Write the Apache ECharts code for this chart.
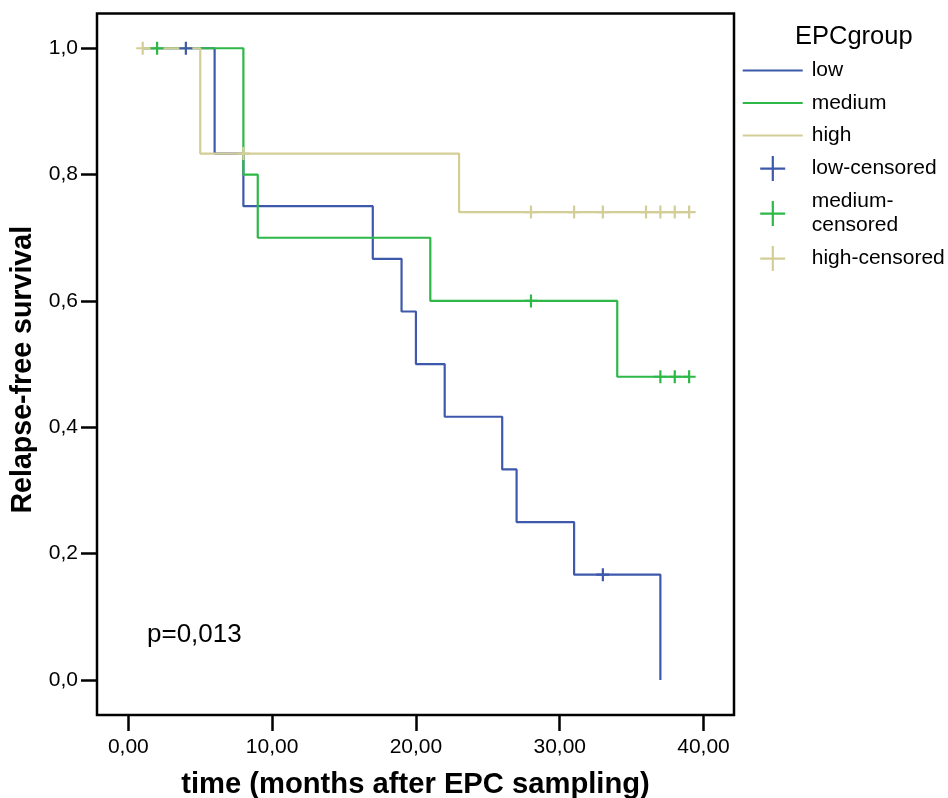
<!DOCTYPE html>
<html>
<head>
<meta charset="utf-8">
<script src="https://cdn.jsdelivr.net/npm/echarts@6/dist/echarts.min.js"></script>
<style>
html,body{margin:0;padding:0;background:#fff;}
#chart{width:948px;height:798px;}
</style>
</head>
<body>
<div id="chart"></div>
<script>
// Kaplan-Meier step data (time in months, relapse-free survival)
const lowT = [1, 6, 8, 17, 19, 20, 22, 26, 27, 31, 37];
const lowS = [1, 0.8333, 0.75, 0.6667, 0.5833, 0.5, 0.4167, 0.3333, 0.25, 0.1667, 0];
const medT = [1, 8, 9, 21, 34, 39];
const medS = [1, 0.8, 0.7, 0.6, 0.48, 0.48];
const highT = [1, 5, 23, 39];
const highS = [1, 0.8333, 0.7407, 0.7407];
// censored observations
const lowCensT = [4, 33];
const lowCensS = [1, 0.1667];
const medCensT = [2, 28, 37, 38, 39];
const medCensS = [1, 0.6, 0.48, 0.48, 0.48];
const highCensT = [1, 8, 28, 31, 33, 36, 37, 38, 39];
const highCensS = [1, 0.8333, 0.7407, 0.7407, 0.7407, 0.7407, 0.7407, 0.7407, 0.7407];
// axes
const xTicks = [0, 10, 20, 30, 40];
const yTicks = [0, 0.2, 0.4, 0.6, 0.8, 1.0];
const groupNames = ['low', 'medium', 'high'];
const censNames = ['low-censored', 'medium-censored', 'high-censored'];
const colors = ['#3E58AC', '#2EB848', '#D3CE97'];
const pText = 'p=0,013';
const legendTitle = 'EPCgroup';

const FONT = '"Liberation Sans", Arial, sans-serif';
const zip = (t, s) => t.map((v, i) => [v, s[i]]);
const plusPath = 'path://M0,5.4h13v2.2H0z M5.4,0h2.2v13H5.4z';
const plusLegend = 'path://M0,11.5h25v2.2H0z M11.5,0h2.2v25h-2.2z';
const lineLegend = 'path://M0,0h60v2.2H0z';

const lineData = [zip(lowT, lowS), zip(medT, medS), zip(highT, highS)];
const censData = [zip(lowCensT, lowCensS), zip(medCensT, medCensS), zip(highCensT, highCensS)];

const series = [];
groupNames.forEach((n, i) => {
  series.push({
    name: n, type: 'line', step: 'end', data: lineData[i],
    showSymbol: false, symbol: 'none', animation: false,
    lineStyle: { color: colors[i], width: 2.2 },
    itemStyle: { color: colors[i] }, z: 2 + i
  });
});
censNames.forEach((n, i) => {
  series.push({
    name: n, type: 'scatter', data: censData[i],
    symbol: plusPath, symbolSize: [13, 13], animation: false,
    itemStyle: { color: colors[i], opacity: 1 }, z: 6
  });
});

const chart = echarts.init(document.getElementById('chart'));
chart.setOption({
  backgroundColor: '#fff',
  animation: false,
  textStyle: { fontFamily: FONT },
  grid: {
    left: 97, right: 214, top: 13.5, bottom: 83,
    show: true, borderColor: '#000', borderWidth: 2.5, backgroundColor: 'transparent',
    outerBoundsMode: 'none', containLabel: false
  },
  xAxis: {
    type: 'value', min: -2.18, max: 42.12,
    splitLine: { show: false },
    axisLine: { show: false, onZero: false },
    axisTick: { show: true, length: 16, inside: false, customValues: xTicks, lineStyle: { color: '#000', width: 2.5 } },
    axisLabel: { customValues: xTicks, margin: 22, fontSize: 21, color: '#000', fontFamily: FONT,
      formatter: v => v.toFixed(2).replace('.', ',') },
    name: 'time (months after EPC sampling)', nameLocation: 'middle', nameGap: 55,
    nameTextStyle: { fontSize: 29.2, fontWeight: 'bold', color: '#000', fontFamily: FONT }
  },
  yAxis: {
    type: 'value', min: -0.0554, max: 1.055,
    splitLine: { show: false },
    axisLine: { show: false, onZero: false },
    axisTick: { show: true, length: 16, inside: false, customValues: yTicks, lineStyle: { color: '#000', width: 2.5 } },
    axisLabel: { customValues: yTicks, margin: 19, fontSize: 21, color: '#000', fontFamily: FONT,
      formatter: v => v.toFixed(1).replace('.', ',') },
    name: 'Relapse-free survival', nameLocation: 'middle', nameGap: 56,
    nameTextStyle: { fontSize: 28.6, fontWeight: 'bold', color: '#000', fontFamily: FONT, padding: [0, 11, 0, 0] }
  },
  legend: {
    orient: 'vertical', left: 742.7, top: 58.5,
    itemWidth: 60, itemHeight: 25, itemGap: 8.5,
    selectedMode: false, symbolKeepAspect: true,
    padding: 0,
    textStyle: { fontSize: 21, lineHeight: 24, color: '#000', fontFamily: FONT, padding: [0, 0, 0, 4] },
    formatter: name => name === 'medium-censored' ? 'medium-\ncensored' : name,
    data: [
      { name: groupNames[0], icon: lineLegend },
      { name: groupNames[1], icon: lineLegend },
      { name: groupNames[2], icon: lineLegend },
      { name: censNames[0], icon: plusLegend },
      { name: censNames[1], icon: plusLegend },
      { name: censNames[2], icon: plusLegend }
    ]
  },
  graphic: [
    { type: 'text', x: 147, y: 635, style: { text: pText, fontSize: 26, fill: '#000', verticalAlign: 'middle', font: '26px ' + FONT } },
    { type: 'text', x: 795, y: 37, style: { text: legendTitle, fontSize: 25.5, fill: '#000', verticalAlign: 'middle', font: '25.5px ' + FONT } }
  ],
  series: series
});
</script>
</body>
</html>
